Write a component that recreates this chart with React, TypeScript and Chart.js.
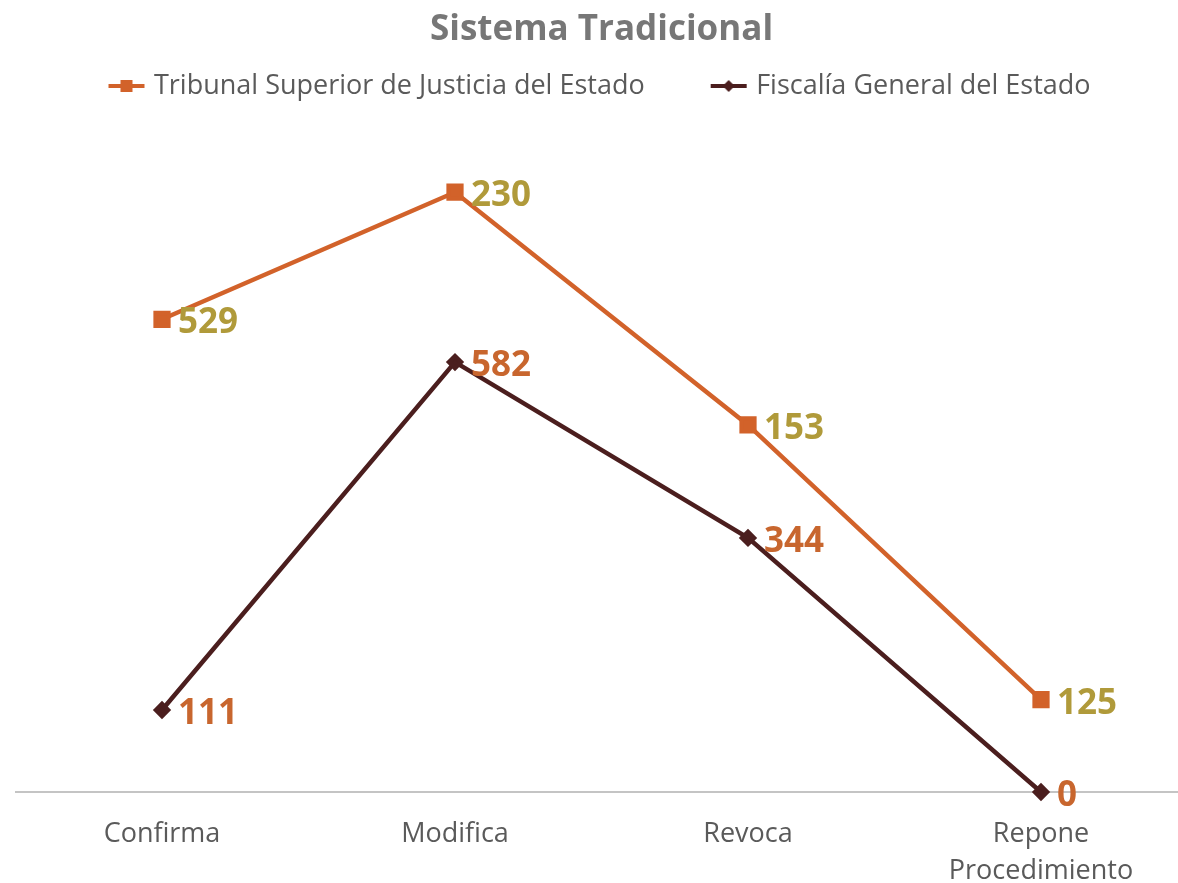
import React, { useEffect, useRef } from "react";
import { Chart, registerables } from "chart.js";

Chart.register(...registerables);

const categories: string[][] = [["Confirma"], ["Modifica"], ["Revoca"], ["Repone", "Procedimiento"]];
const tribunalValues: number[] = [529, 230, 153, 125];
const fiscaliaValues: number[] = [111, 582, 344, 0];
const seriesNames: string[] = ["Tribunal Superior de Justicia del Estado", "Fiscalía General del Estado"];
const titleText = "Sistema Tradicional";
const yMax = 924;

const ORANGE = "#d2622a";
const MAROON = "#4b1e1e";
const ORANGE_LABEL = "#b09a3a";
const MAROON_LABEL = "#c8662e";
const FONT = "'Open Sans', sans-serif";

function makeLegendIcon(color: string, shape: "square" | "diamond"): HTMLCanvasElement {
  const c = document.createElement("canvas");
  c.width = 40;
  c.height = 16;
  const ctx = c.getContext("2d")!;
  ctx.strokeStyle = color;
  ctx.lineWidth = 4;
  ctx.beginPath();
  ctx.moveTo(2, 8);
  ctx.lineTo(38, 8);
  ctx.stroke();
  ctx.fillStyle = color;
  if (shape === "square") {
    ctx.fillRect(14, 2, 12, 12);
  } else {
    ctx.beginPath();
    ctx.moveTo(20, 2);
    ctx.lineTo(26, 8);
    ctx.lineTo(20, 14);
    ctx.lineTo(14, 8);
    ctx.closePath();
    ctx.fill();
  }
  return c;
}

const valueLabelPlugin = {
  id: "valueLabels",
  afterDatasetsDraw(chart: any) {
    const ctx = chart.ctx;
    ctx.save();
    ctx.font = `bold 35px ${FONT}`;
    ctx.textAlign = "left";
    ctx.textBaseline = "middle";
    chart.data.datasets.forEach((ds: any, di: number) => {
      const meta = chart.getDatasetMeta(di);
      ctx.fillStyle = ds.labelColor;
      meta.data.forEach((pt: any, i: number) => {
        ctx.fillText(String(ds.data[i]), pt.x + 16, pt.y + 4);
      });
    });
    ctx.restore();
  },
};

export default function App() {
  const ref = useRef<HTMLCanvasElement>(null);

  useEffect(() => {
    if (!ref.current) return;
    const icons = [makeLegendIcon(MAROON, "diamond"), makeLegendIcon(ORANGE, "square")];
    const chart = new Chart(ref.current, {
      type: "line",
      data: {
        labels: categories,
        datasets: [
          {
            label: seriesNames[1],
            data: fiscaliaValues,
            borderColor: MAROON,
            backgroundColor: MAROON,
            borderWidth: 4.5,
            pointStyle: "rectRot",
            pointRadius: 6,
            pointBackgroundColor: MAROON,
            pointBorderColor: MAROON,
            tension: 0,
            fill: false,
            clip: false,
            labelColor: MAROON_LABEL,
          } as any,
          {
            label: seriesNames[0],
            data: tribunalValues,
            borderColor: ORANGE,
            backgroundColor: ORANGE,
            borderWidth: 4.5,
            pointStyle: "rect",
            pointRadius: 9,
            pointBackgroundColor: ORANGE,
            pointBorderColor: ORANGE,
            tension: 0,
            fill: false,
            clip: false,
            labelColor: ORANGE_LABEL,
          } as any,
        ],
      },
      options: {
        responsive: false,
        animation: false,
        layout: { padding: { left: 15.5, right: 16.5, top: 0, bottom: 0 } },
        plugins: {
          title: {
            display: true,
            text: titleText,
            color: "#777777",
            font: { family: FONT, size: 35, weight: "bold" },
            padding: { top: 9, bottom: -48.5 },
          },
          legend: {
            display: true,
            reverse: true,
            labels: {
              usePointStyle: true,
              pointStyleWidth: 28,
              padding: 70,
              color: "#5a5a5a",
              font: { family: FONT, size: 27 },
              generateLabels(chart: any) {
                const items = Chart.defaults.plugins.legend.labels.generateLabels(chart);
                return items.map((it: any) => ({ ...it, pointStyle: icons[it.datasetIndex] }));
              },
            },
          },
          tooltip: { enabled: false },
        },
        scales: {
          x: {
            offset: true,
            grid: { display: false },
            border: { display: true, color: "#c4c4c4", width: 2 },
            ticks: {
              color: "#5a5a5a",
              padding: 16,
              font: { family: FONT, size: 27, lineHeight: 1.37 },
              maxRotation: 0,
            },
          },
          y: {
            display: false,
            stacked: true,
            min: 0,
            max: yMax,
          },
        },
      },
      plugins: [valueLabelPlugin],
    });
    return () => chart.destroy();
  }, []);

  return (
    <div
      style={{
        position: "absolute",
        left: 0,
        top: 0,
        width: 1178,
        height: 883,
        overflow: "hidden",
        background: "#ffffff",
      }}
    >
      <canvas ref={ref} width={1204} height={906} style={{ display: "block" }} />
    </div>
  );
}
